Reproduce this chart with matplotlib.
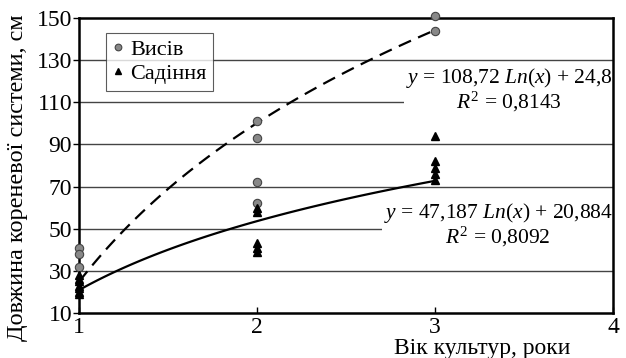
import matplotlib
matplotlib.use('Agg')
import matplotlib.pyplot as plt
import numpy as np

plt.rcParams['font.family'] = 'Liberation Serif'
plt.rcParams['mathtext.fontset'] = 'custom'
plt.rcParams['mathtext.rm'] = 'Liberation Serif'
plt.rcParams['mathtext.it'] = 'Liberation Serif:italic'

# дані
vysiv_x = [1, 1, 1, 2, 2, 2, 2, 3, 3]
vysiv_y = [41, 38, 32, 101, 93, 72, 62, 151, 144]
sadinnia_x = [1, 1, 1, 1, 1, 1, 1, 2, 2, 2, 2, 2, 3, 3, 3, 3, 3]
sadinnia_y = [28, 26, 25, 23, 22, 20, 19, 60, 58, 43, 41, 39, 94, 82, 79, 76, 73]

# коефіцієнти логарифмічних трендів
vysiv_a, vysiv_b, vysiv_r2 = 108.72, 24.8, 0.8143
sad_a, sad_b, sad_r2 = 47.187, 20.884, 0.8092

fig = plt.figure(figsize=(6.26, 3.58), dpi=100)
ax = fig.add_axes([0.1262, 0.1257, 0.8530, 0.8240])

ax.set_xlim(1, 4)
ax.set_ylim(10, 150)
ax.set_yticks(np.arange(10, 151, 20))
ax.set_xticks([1, 2, 3, 4])
for y in range(30, 150, 20):
    ax.axhline(y, color='#444444', lw=1.0, zorder=1)

xx = np.linspace(1, 3, 100)
ax.plot(xx, vysiv_a * np.log(xx) + vysiv_b, color='black', lw=1.6,
        dashes=(6, 3.5), zorder=3)
ax.plot(xx, sad_a * np.log(xx) + sad_b, color='black', lw=1.6, zorder=3)

ax.plot(vysiv_x, vysiv_y, 'o', color='#888888', mec='#444444', mew=0.8,
        ms=6, label='Висів', clip_on=False, zorder=4)
ax.plot(sadinnia_x, sadinnia_y, '^', color='black', ms=6,
        label='Садіння', clip_on=False, zorder=4)

for s in ax.spines.values():
    s.set_linewidth(1.8)
    s.set_color('black')
ax.tick_params(axis='y', direction='out', length=4, width=1, labelsize=17, pad=1)
ax.tick_params(axis='x', direction='in', length=4, width=1, labelsize=17, pad=3)

ax.set_ylabel('Довжина кореневої системи, см', fontsize=17.5)
ax.yaxis.set_label_coords(-0.095, 0.46)
ax.set_xlabel('Вік культур, роки', fontsize=17)
ax.xaxis.set_label_coords(0.755, -0.085)

leg = ax.legend(loc='upper left', bbox_to_anchor=(0.05, 0.95), fontsize=16,
                frameon=True, fancybox=False, handlelength=0.5,
                handletextpad=0.3, borderpad=0.3, labelspacing=0.15,
                borderaxespad=0, markerscale=0.8)
leg.get_frame().set_edgecolor('#333333')
leg.get_frame().set_linewidth(0.8)
leg.set_zorder(5)

box = dict(facecolor='white', edgecolor='none', pad=1)
ax.text(0.805, 0.755,
        '$y$ = %s $Ln$($x$) + %s\n$R^2$ = %s' % (
            str(vysiv_a).replace('.', ','), str(vysiv_b).replace('.', ','),
            str(vysiv_r2).replace('.', ',')),
        transform=ax.transAxes, ha='center', va='center', fontsize=15.5,
        multialignment='center', linespacing=1.0, bbox=box, zorder=2)
ax.text(0.785, 0.298,
        '$y$ = %s $Ln$($x$) + %s\n$R^2$ = %s' % (
            str(sad_a).replace('.', ','), str(sad_b).replace('.', ','),
            str(sad_r2).replace('.', ',')),
        transform=ax.transAxes, ha='center', va='center', fontsize=15.5,
        multialignment='center', linespacing=1.0, bbox=box, zorder=2)

fig.savefig('out.png', dpi=100)
